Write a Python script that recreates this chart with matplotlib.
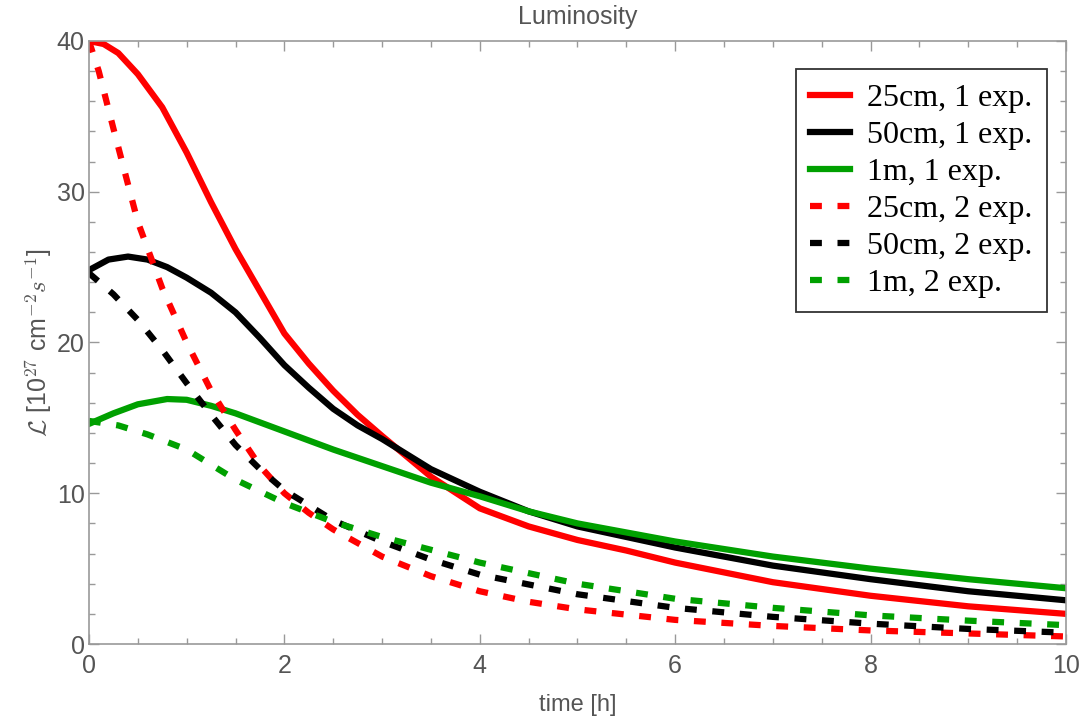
import numpy as np
import matplotlib
matplotlib.use("Agg")
import matplotlib.pyplot as plt
from matplotlib.ticker import MultipleLocator

plt.rcParams['mathtext.fontset'] = 'cm'

# Data (time in h, luminosity in 1e27 cm^-2 s^-1)
t_red1 = [0, 0.15, 0.3, 0.5, 0.75, 1, 1.25, 1.5, 1.75, 2, 2.25, 2.5, 2.75, 3, 3.5, 4, 4.5, 5, 5.5, 6, 7, 8, 9, 10]
L_red1 = [40.0, 39.8, 39.2, 37.8, 35.6, 32.6, 29.3, 26.2, 23.4, 20.6, 18.6, 16.8, 15.2, 13.8, 11.1, 9.0, 7.8, 6.9, 6.2, 5.4, 4.1, 3.2, 2.5, 2.0]

t_blk1 = [0, 0.2, 0.4, 0.6, 0.8, 1, 1.25, 1.5, 1.75, 2, 2.25, 2.5, 2.75, 3, 3.5, 4, 4.5, 5, 6, 7, 8, 9, 10]
L_blk1 = [24.8, 25.5, 25.7, 25.5, 25.0, 24.3, 23.3, 22.0, 20.3, 18.5, 17.0, 15.6, 14.5, 13.6, 11.6, 10.1, 8.8, 7.8, 6.4, 5.2, 4.3, 3.5, 2.9]

t_grn1 = [0, 0.25, 0.5, 0.8, 1, 1.25, 1.5, 2, 2.5, 3, 3.5, 4, 4.5, 5, 6, 7, 8, 9, 10]
L_grn1 = [14.6, 15.3, 15.9, 16.25, 16.2, 15.8, 15.3, 14.1, 12.9, 11.8, 10.7, 9.8, 8.8, 8.0, 6.8, 5.8, 5.0, 4.3, 3.7]

t_red2 = [0, 0.1, 0.25, 0.5, 0.75, 1, 1.25, 1.5, 1.75, 2, 2.25, 2.5, 3, 3.5, 4, 4.5, 5, 6, 7, 8, 9, 10]
L_red2 = [40.0, 38.0, 34.2, 28.0, 23.6, 20.0, 16.8, 14.2, 11.8, 10.0, 8.7, 7.6, 5.8, 4.5, 3.5, 2.8, 2.3, 1.6, 1.2, 0.9, 0.7, 0.5]

t_blk2 = [0, 0.25, 0.5, 0.75, 1, 1.25, 1.5, 1.75, 2, 2.5, 3, 3.5, 4, 5, 6, 7, 8, 9, 10]
L_blk2 = [24.6, 23.2, 21.5, 19.5, 17.3, 15.2, 13.2, 11.6, 10.2, 8.2, 6.8, 5.6, 4.6, 3.3, 2.4, 1.8, 1.35, 1.0, 0.75]

t_grn2 = [0, 0.3, 0.6, 1, 1.5, 2, 2.5, 3, 4, 5, 6, 7, 8, 9, 10]
L_grn2 = [14.8, 14.5, 13.9, 12.9, 10.9, 9.35, 8.1, 7.1, 5.4, 4.0, 3.0, 2.4, 1.9, 1.55, 1.25]

labels = ["25cm, 1 exp.", "50cm, 1 exp.", "1m, 1 exp.",
          "25cm, 2 exp.", "50cm, 2 exp.", "1m, 2 exp."]

red, black, green = "#ff0000", "#000000", "#00a000"
gray = "#555555"

fig = plt.figure(figsize=(10.81, 7.19), dpi=100)
ax = fig.add_axes([0.0823, 0.1043, 0.9861 - 0.0823, 0.943 - 0.1043])

lw = 4.5
dash = (1.9, 2.5)
ax.plot(t_red1, L_red1, color=red, lw=lw, label=labels[0])
ax.plot(t_blk1, L_blk1, color=black, lw=lw, label=labels[1])
ax.plot(t_grn1, L_grn1, color=green, lw=lw, label=labels[2])
ax.plot(t_red2, L_red2, color=red, lw=lw, dashes=dash, dash_capstyle='butt', label=labels[3])
ax.plot(t_blk2, L_blk2, color=black, lw=lw, dashes=dash, dash_capstyle='butt', label=labels[4])
ax.plot(t_grn2, L_grn2, color=green, lw=lw, dashes=dash, dash_capstyle='butt', label=labels[5])

ax.set_xlim(0, 10)
ax.set_ylim(0, 40)
ax.xaxis.set_major_locator(MultipleLocator(2))
ax.xaxis.set_minor_locator(MultipleLocator(0.5))
ax.yaxis.set_major_locator(MultipleLocator(10))
ax.yaxis.set_minor_locator(MultipleLocator(2))
ax.tick_params(which='both', direction='in', top=True, right=True,
               color='#999999', labelcolor=gray, labelsize=18)
ax.tick_params(which='major', length=7, width=1)
ax.tick_params(which='minor', length=4, width=1)
for lab in ax.get_xticklabels() + ax.get_yticklabels():
    lab.set_fontfamily('Liberation Sans')
ax.tick_params(axis='x', pad=7)
ax.tick_params(axis='y', pad=3)
for s in ax.spines.values():
    s.set_color('#999999')
    s.set_linewidth(1.2)

ax.set_xlabel("time [h]", fontsize=17, color=gray, family='Liberation Sans', labelpad=12)
ax.set_ylabel(r"$\mathcal{L}$ [10$^{27}$ cm$^{-2}$$s^{-1}$]", fontsize=18, color=gray,
              family='Liberation Sans', labelpad=2)

fig.text(0.5343, 0.967, "Luminosity", ha='center', va='baseline', fontsize=18,
         color=gray, family='Liberation Sans')

leg = ax.legend(loc='upper right', bbox_to_anchor=(0.9806, 0.9536),
                prop={'family': 'Liberation Serif', 'size': 23},
                fancybox=False, framealpha=1, edgecolor='#333333',
                handlelength=1.25, handletextpad=0.53, labelspacing=0.24,
                borderpad=0.45, borderaxespad=0)
leg.get_frame().set_linewidth(1.3)

fig.savefig("out.png", dpi=100)
